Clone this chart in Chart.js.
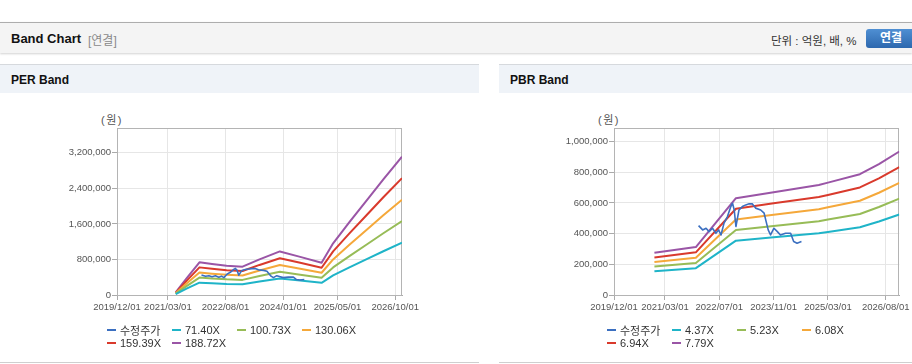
<!DOCTYPE html>
<html lang="ko">
<head>
<meta charset="utf-8">
<title>Band Chart</title>
<script src="https://cdn.jsdelivr.net/npm/chart.js@4.4.1/dist/chart.umd.min.js"></script>
<style>
  body { margin:0; width:912px; height:364px; position:relative; overflow:hidden; background:#fff;
    font-family:"Liberation Sans", Arial, "Noto Sans CJK KR", sans-serif; color:#333; }
  .topbar { position:absolute; left:0; top:22px; width:912px; height:30px; background:#f4f4f4;
    border-top:1px solid #adadad; box-shadow:0 1px 2px rgba(0,0,0,0.18); }
  .topbar .title { position:absolute; left:11px; top:8px; font-size:13px; font-weight:bold; color:#111; }
  .topbar .sub { position:absolute; left:88px; top:8px; font-size:12px; color:#8a8a8a; }
  .topbar .unit { position:absolute; left:771px; top:9px; font-size:11.5px; color:#333; }
  .topbar .btn { position:absolute; left:866px; top:6px; width:54px; height:19px; border-radius:3px;
    background:linear-gradient(#4f8fd3,#2d68ae); color:#fff; font-size:12px; font-weight:bold;
    line-height:19px; text-indent:14px; }
  .panel { position:absolute; top:64px; height:298px; border-bottom:1px solid #cfcfcf; }
  .panel .head { height:28px; background:#eff3f8; border-top:1px solid #d6d9dd; font-size:12px;
    font-weight:bold; color:#111; line-height:30px; padding-left:11px; }
  canvas { position:absolute; }
  .unitlbl { position:absolute; font-size:11px; color:#555; letter-spacing:1.5px; }
  .legend { position:absolute; display:grid; grid-template-columns:repeat(4, 65px); font-size:11px; color:#333; }
  .legend div { display:flex; align-items:center; height:13.5px; white-space:nowrap; }
  .legend i { display:inline-block; width:9px; height:2px; margin-right:4px; }
</style>
</head>
<body>
<div class="topbar">
  <span class="title">Band Chart</span><span class="sub">[연결]</span>
  <span class="unit">단위 : 억원, 배, %</span><span class="btn">연결</span>
</div>
<div class="panel" style="left:0;width:479px"><div class="head">PER Band</div></div>
<div class="panel" style="left:499px;width:413px"><div class="head">PBR Band</div></div>
<div class="unitlbl" style="left:101px;top:111px">(원)</div>
<div class="unitlbl" style="left:598px;top:111px">(원)</div>
<canvas id="perChart" width="479" height="230" style="left:0;top:96px"></canvas>
<canvas id="pbrChart" width="413" height="230" style="left:499px;top:96px"></canvas>
<div class="legend" id="perLegend" style="left:107px;top:323px"></div>
<div class="legend" id="pbrLegend" style="left:607px;top:323px"></div>
<script>
// x values are months counted from 2019/12/01
const perXTicks = [0, 15, 32, 49, 65, 82];
const perXLabels = ['2019/12/01', '2021/03/01', '2022/08/01', '2024/01/01', '2025/05/01', '2026/10/01'];
const pbrXTicks = [0, 15, 31, 47, 63, 80];
const pbrXLabels = ['2019/12/01', '2021/03/01', '2022/07/01', '2023/11/01', '2025/03/01', '2026/08/01'];
const perYTicks = [0, 800000, 1600000, 2400000, 3200000];
const pbrYTicks = [0, 200000, 400000, 600000, 800000, 1000000];

const priceMonths = [24.9, 26.1, 27.1, 28.0, 29.0, 30.0, 30.8, 31.5, 32.4, 33.4, 34.4, 34.9, 35.4, 35.9, 36.8,
  37.8, 38.8, 39.8, 40.7, 41.7, 43.2, 44.2, 44.8, 45.4, 46.1, 47.1, 48.1, 49.0, 50.5, 52.0, 52.9, 53.9, 55.2];
const adjPrice = [452000, 424000, 435000, 413000, 435000, 402000, 424000, 391000, 468000, 511000, 576000,
  598000, 554000, 446000, 554000, 576000, 587000, 594000, 594000, 566000, 554000, 533000, 478000, 424000,
  391000, 435000, 413000, 391000, 402000, 402000, 348000, 337000, 348000];

const perMonths = [17.3, 20.5, 24.3, 28, 32.3, 37, 42, 48, 54, 60.3, 63.7, 68.5, 73.6, 78.5, 84];
const per71 = [21000, 143000, 278000, 264000, 249000, 241000, 303000, 371000, 325000, 275000, 440000, 621000, 807000, 985000, 1178000];
const per100 = [30000, 201000, 393000, 373000, 352000, 340000, 428000, 524000, 458000, 388000, 621000, 876000, 1138000, 1390000, 1662000];
const per130 = [39000, 260000, 507000, 481000, 454000, 440000, 553000, 676000, 592000, 501000, 801000, 1132000, 1470000, 1795000, 2146000];
const per159 = [48000, 319000, 622000, 590000, 556000, 539000, 677000, 829000, 725000, 614000, 982000, 1387000, 1801000, 2200000, 2630000];
const per188 = [57000, 377000, 736000, 698000, 659000, 638000, 802000, 981000, 859000, 727000, 1163000, 1642000, 2133000, 2604000, 3114000];

const pbrMonths = [11.9, 24.1, 35.9, 47, 60.3, 63, 72.4, 78, 84];
const pbr437 = [154000, 175000, 354000, 376000, 402000, 411000, 441000, 479000, 524000];
const pbr523 = [185000, 209000, 424000, 450000, 481000, 492000, 528000, 573000, 628000];
const pbr608 = [215000, 243000, 492000, 523000, 559000, 572000, 614000, 666000, 730000];
const pbr694 = [245000, 278000, 562000, 597000, 638000, 652000, 701000, 760000, 833000];
const pbr779 = [275000, 312000, 631000, 670000, 717000, 732000, 787000, 853000, 935000];

const colors = ['#3b6fc0', '#1fb4c8', '#97bc57', '#f5a83a', '#d93a2c', '#9a55a6'];
const perNames = ['수정주가', '71.40X', '100.73X', '130.06X', '159.39X', '188.72X'];
const pbrNames = ['수정주가', '4.37X', '5.23X', '6.08X', '6.94X', '7.79X'];

const tickFont = { family: '"Liberation Sans", Arial, sans-serif', size: 9.5 };

function toPoints(xs, ys) {
  return xs.map((x, i) => ({ x, y: ys[i] }));
}

const frame = {
  id: 'frame',
  beforeDatasetsDraw(chart) {
    const a = chart.chartArea, ctx = chart.ctx;
    ctx.save();
    ctx.strokeStyle = '#b4b4b4';
    ctx.lineWidth = 1;
    ctx.strokeRect(Math.round(a.left) + 0.5, Math.round(a.top) + 0.5, Math.round(a.width) - 1, Math.round(a.height));
    ctx.restore();
  }
};

function makeChart(id, names, series, xTicks, xLabels, yTicks, yMax, yWidth, padRight) {
  const datasets = series.map((s, i) => ({
    label: names[i],
    data: toPoints(s[0], s[1]),
    borderColor: colors[i],
    borderWidth: i === 0 ? 1.6 : 2,
    pointRadius: 0,
    tension: 0,
    borderJoinStyle: 'round'
  }));
  new Chart(document.getElementById(id), {
    type: 'line',
    data: { datasets },
    plugins: [frame],
    options: {
      responsive: false,
      animation: false,
      devicePixelRatio: 1,
      layout: { padding: { top: 32, right: padRight, left: 0, bottom: 0 } },
      plugins: { legend: { display: false }, tooltip: { enabled: false } },
      scales: {
        x: {
          type: 'linear', min: 0, max: 84,
          afterBuildTicks: sc => { sc.ticks = xTicks.map(v => ({ value: v })); },
          afterFit: sc => { sc.height = 31; },
          ticks: {
            autoSkip: false, maxRotation: 0, padding: 2, color: '#555', font: tickFont,
            callback: v => xLabels[xTicks.indexOf(v)]
          },
          grid: { color: '#e6e6e6', tickColor: '#aaa', tickLength: 5 },
          border: { color: '#aaa' }
        },
        y: {
          min: 0, max: yMax,
          afterBuildTicks: sc => { sc.ticks = yTicks.map(v => ({ value: v })); },
          afterFit: sc => { sc.width = yWidth; },
          ticks: { padding: 1, color: '#555', font: tickFont, callback: v => v.toLocaleString('en-US') },
          grid: { color: '#e6e6e6', tickColor: '#aaa', tickLength: 5 },
          border: { color: '#aaa' }
        }
      }
    }
  });
}

function makeLegend(id, names) {
  const el = document.getElementById(id);
  names.forEach((n, i) => {
    const d = document.createElement('div');
    d.innerHTML = '<i style="background:' + colors[i] + '"></i>' + n;
    el.appendChild(d);
  });
}

makeChart('perChart', perNames, [
  [priceMonths, adjPrice], [perMonths, per71], [perMonths, per100],
  [perMonths, per130], [perMonths, per159], [perMonths, per188]
], perXTicks, perXLabels, perYTicks, 3760000, 117, 77);

makeChart('pbrChart', pbrNames, [
  [priceMonths, adjPrice], [pbrMonths, pbr437], [pbrMonths, pbr523],
  [pbrMonths, pbr608], [pbrMonths, pbr694], [pbrMonths, pbr779]
], pbrXTicks, pbrXLabels, pbrYTicks, 1088000, 115, 11);

makeLegend('perLegend', perNames);
makeLegend('pbrLegend', pbrNames);
</script>
</body>
</html>
